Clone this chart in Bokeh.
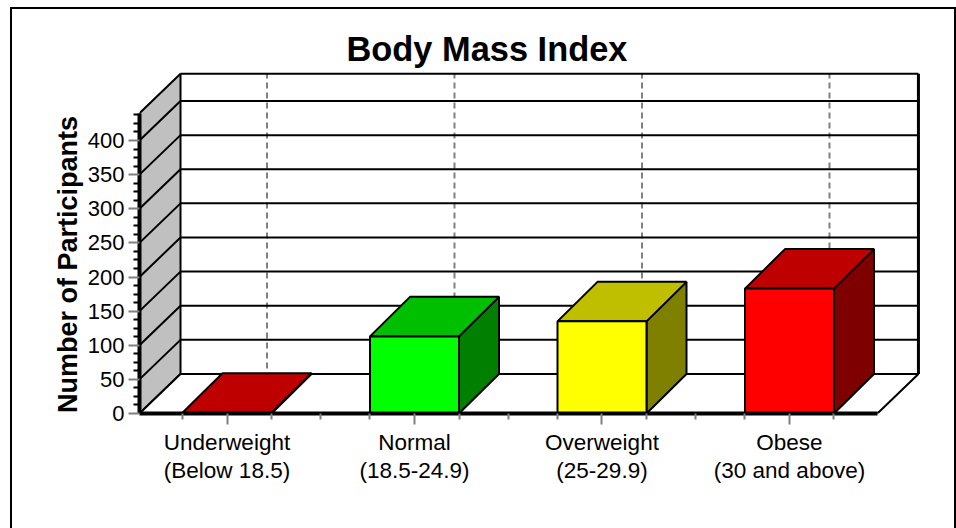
from bokeh.plotting import figure
from bokeh.models import LinearAxis, FixedTicker, Range1d, Title
from bokeh.embed import file_html
from bokeh.resources import INLINE

title_text = "Body Mass Index"
y_title = "Number of Participants"
categories = ["Underweight\n(Below 18.5)", "Normal\n(18.5-24.9)", "Overweight\n(25-29.9)", "Obese\n(30 and above)"]
participants = [1, 113, 135, 183]
front_colors = ["#ff0000", "#00ff00", "#ffff00", "#ff0000"]
top_colors = ["#bf0000", "#00bf00", "#bfbf00", "#bf0000"]
side_colors = ["#7f0000", "#007f00", "#7f7f00", "#7f0000"]
y_major = [0, 50, 100, 150, 200, 250, 300, 350, 400]
y_minor = [12.5, 25, 37.5, 62.5, 75, 87.5, 112.5, 125, 137.5, 162.5, 175, 187.5, 212.5, 225, 237.5,
           262.5, 275, 287.5, 312.5, 325, 337.5, 362.5, 375, 387.5, 412.5, 425, 437.5]
y_top = 440

FONT = "Liberation Sans"
W, H = 956, 528
X0, X1 = -0.4667, 3.6987        # frame in category units
DX, DY = 0.2187, 57.9           # depth of the floor
BAR_W, BAR_DX, BAR_DY = 0.4747, 0.2133, 57.9
FLOOR_R = 3.469
L_PX, T_PX, B_PX, R_PX = 139, 70, 413, 920

p = figure(width=W, height=H, output_backend="svg", toolbar_location=None,
           x_axis_location=None, y_axis_location=None,
           x_range=Range1d(X0, X1), y_range=Range1d(0, 502.6),
           min_border_left=L_PX, min_border_right=W - R_PX, min_border_top=T_PX, min_border_bottom=H - B_PX,
           background_fill_color="white", border_fill_color="white", outline_line_color=None)
p.grid.visible = False
p.title = Title(text=title_text, align="left", offset=346 - L_PX, standoff=5,
                text_font=FONT, text_font_style="bold", text_font_size="34.4px", text_color="black")
p.stylesheets = [":host::after{content:'';position:absolute;left:10px;top:7px;width:942px;height:530px;"
                 "border:2px solid black;border-bottom:none;pointer-events:none;box-sizing:content-box;}"
                 ":host{overflow:hidden;}"]

# side wall
p.patch([X0, X0, X0 + DX, X0 + DX], [0, y_top, y_top + DY, DY],
        fill_color="#c0c0c0", line_color="black", line_width=2)
# floor
p.patch([X0, FLOOR_R, FLOOR_R + DX, X0 + DX], [0, 0, DY, DY],
        fill_color="white", line_color="black", line_width=2)

# dashed category lines on the back wall
for i in range(len(categories)):
    xb = i + BAR_DX
    p.line([xb, xb], [DY + 8, y_top + DY], line_color="#808080", line_width=2, line_dash="6 4")

# wall gridlines
for v in y_major[1:]:
    p.line([X0, X0 + DX, FLOOR_R + DX], [v, v + DY, v + DY], line_color="black", line_width=2)
p.line([X0 + DX, FLOOR_R + DX], [y_top + DY, y_top + DY], line_color="black", line_width=2)
p.line([FLOOR_R + DX, FLOOR_R + DX], [DY, y_top + DY], line_color="black", line_width=3)

# bars
for i, v in enumerate(participants):
    l, r = i - BAR_W / 2, i + BAR_W / 2
    p.patch([r, r + BAR_DX, r + BAR_DX, r], [0, BAR_DY, v + BAR_DY, v],
            fill_color=side_colors[i], line_color="black", line_width=2)
    p.patch([l, r, r + BAR_DX, l + BAR_DX], [v, v, v + BAR_DY, v + BAR_DY],
            fill_color=top_colors[i], line_color="black", line_width=2)
    p.patch([l, r, r, l], [0, 0, v, v],
            fill_color=front_colors[i], line_color="black", line_width=2)

# axes
yax = LinearAxis(ticker=FixedTicker(ticks=y_major, minor_ticks=y_minor), bounds=(0, y_top))
yax.axis_line_width = 4
yax.axis_line_color = "black"
yax.major_tick_line_color = "#808080"
yax.major_tick_line_width = 2
yax.major_tick_in = 0
yax.major_tick_out = 11
yax.minor_tick_line_color = "black"
yax.minor_tick_line_width = 2
yax.minor_tick_in = 0
yax.minor_tick_out = 6
yax.major_label_text_font = FONT
yax.major_label_text_font_size = "22px"
yax.major_label_text_color = "black"
yax.major_label_standoff = 4
# the label is centred on the frame; the no-break spaces move it down to the floor
yax.axis_label = y_title + "\u00a0" * 6
yax.axis_label_text_font = FONT
yax.axis_label_text_font_style = "bold"
yax.axis_label_text_font_size = "27px"
yax.axis_label_text_color = "black"
yax.axis_label_standoff = 2
p.add_layout(yax, "left")

x_major = list(range(len(categories)))
x_minor = sorted([i - BAR_W / 2 for i in x_major] + [i + BAR_W / 2 for i in x_major] + [i + 0.5 for i in x_major[:-1]])
xax = LinearAxis(ticker=FixedTicker(ticks=x_major, minor_ticks=x_minor), bounds=(X0, FLOOR_R))
xax.major_label_overrides = {i: c for i, c in enumerate(categories)}
xax.axis_line_width = 4
xax.axis_line_color = "black"
xax.major_tick_line_color = "#808080"
xax.major_tick_line_width = 2
xax.major_tick_in = 0
xax.major_tick_out = 11
xax.minor_tick_line_color = "#808080"
xax.minor_tick_line_width = 2
xax.minor_tick_in = 0
xax.minor_tick_out = 6
xax.major_label_text_font = FONT
xax.major_label_text_font_size = "22.5px"
xax.major_label_text_color = "black"
xax.major_label_text_line_height = 1.15
xax.major_label_standoff = 5
p.add_layout(xax, "below")

open("out.html", "w").write(file_html(p, INLINE))
